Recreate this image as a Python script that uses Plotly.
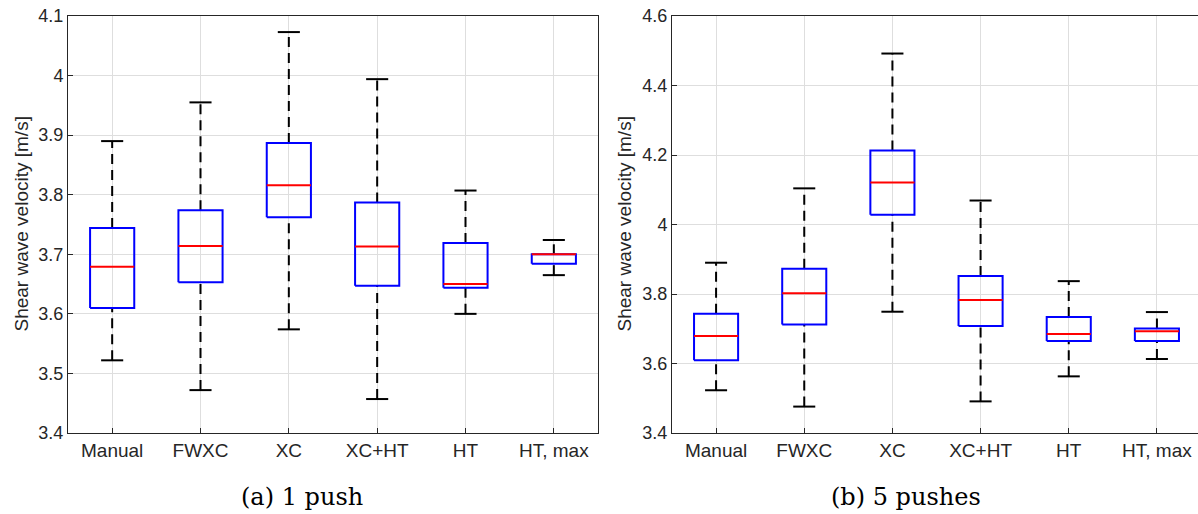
import plotly.graph_objects as go

categories = ["Manual", "FWXC", "XC", "XC+HT", "HT", "HT, max"]

# (a) 1 push
a_low = [3.522, 3.472, 3.574, 3.457, 3.600, 3.665]
a_q1 = [3.610, 3.653, 3.762, 3.647, 3.644, 3.684]
a_med = [3.679, 3.714, 3.816, 3.713, 3.650, 3.700]
a_q3 = [3.744, 3.774, 3.887, 3.787, 3.719, 3.700]
a_high = [3.890, 3.955, 4.073, 3.994, 3.807, 3.724]

# (b) 5 pushes
b_low = [3.523, 3.476, 3.749, 3.491, 3.563, 3.613]
b_q1 = [3.609, 3.712, 4.028, 3.708, 3.665, 3.665]
b_med = [3.679, 3.802, 4.121, 3.783, 3.685, 3.693]
b_q3 = [3.743, 3.873, 4.213, 3.852, 3.734, 3.701]
b_high = [3.890, 4.104, 4.492, 4.069, 3.837, 3.748]

a_ticks = [3.4, 3.5, 3.6, 3.7, 3.8, 3.9, 4.0, 4.1]
a_ticktext = ["3.4", "3.5", "3.6", "3.7", "3.8", "3.9", "4", "4.1"]
b_ticks = [3.4, 3.6, 3.8, 4.0, 4.2, 4.4, 4.6]
b_ticktext = ["3.4", "3.6", "3.8", "4", "4.2", "4.4", "4.6"]

ytitle = "Shear wave velocity [m/s]"
captions = ["(a) 1 push", "(b) 5 pushes"]

AXC = "#262626"
GRID = "#dedede"
FONT = "Liberation Sans, Arial, Helvetica, sans-serif"

fig = go.Figure()

HW = 0.25   # box half width
CW = 0.125  # cap half width


def add_boxes(low, q1, med, q3, high, xa, ya):
    pos = list(range(1, len(categories) + 1))
    wx, wy, cx, cy, bx, by, mx, my = [], [], [], [], [], [], [], []
    for p, lo, a, m, b, hi in zip(pos, low, q1, med, q3, high):
        wx += [p, p, None, p, p, None]
        wy += [b, hi, None, lo, a, None]
        cx += [p - CW, p + CW, None, p - CW, p + CW, None]
        cy += [hi, hi, None, lo, lo, None]
        bx += [p - HW, p + HW, p + HW, p - HW, p - HW, None]
        by += [a, a, b, b, a, None]
        mx += [p - HW, p + HW, None]
        my += [m, m, None]
    common = dict(mode="lines", showlegend=False, hoverinfo="skip", xaxis=xa, yaxis=ya)
    fig.add_trace(go.Scatter(x=wx, y=wy, line=dict(color="black", width=2, dash="10px,6px"), **common))
    fig.add_trace(go.Scatter(x=cx, y=cy, line=dict(color="black", width=2), **common))
    fig.add_trace(go.Scatter(x=bx, y=by, line=dict(color="#0000ff", width=2), **common))
    fig.add_trace(go.Scatter(x=mx, y=my, line=dict(color="#ff0000", width=2), **common))


add_boxes(a_low, a_q1, a_med, a_q3, a_high, "x", "y")
add_boxes(b_low, b_q1, b_med, b_q3, b_high, "x2", "y2")

W, H = 1198, 514
ydom = [(H - 433) / H, (H - 16) / H]

xcommon = dict(
    tickmode="array", tickvals=list(range(1, 7)), ticktext=categories,
    showgrid=True, gridcolor=GRID, gridwidth=1, zeroline=False,
    showline=True, mirror=True, linecolor=AXC, linewidth=1,
    ticks="inside", ticklen=5, tickcolor=AXC, automargin=False,
    tickfont=dict(family=FONT, size=19, color=AXC), fixedrange=True,
)
ycommon = dict(
    showgrid=True, gridcolor=GRID, gridwidth=1, zeroline=False,
    showline=True, mirror=True, linecolor=AXC, linewidth=1,
    ticks="inside", ticklen=5, tickcolor=AXC, automargin=False,
    tickfont=dict(family=FONT, size=18, color=AXC), fixedrange=True,
)

fig.update_layout(
    width=W, height=H,
    margin=dict(l=0, r=0, t=0, b=0, autoexpand=False),
    paper_bgcolor="white", plot_bgcolor="white",
    xaxis=dict(domain=[68 / W, 598 / W], range=[0.5, 6.5], anchor="y", **xcommon),
    yaxis=dict(domain=ydom, range=[3.4, 4.1], tickvals=a_ticks, ticktext=a_ticktext, anchor="x", **ycommon),
    xaxis2=dict(domain=[672 / W, 1.0], range=[0.5, 6.5 - 3 / 88.2], anchor="y2", **xcommon),
    yaxis2=dict(domain=ydom, range=[3.4, 4.6], tickvals=b_ticks, ticktext=b_ticktext, anchor="x2", **ycommon),
)

fig.add_annotation(x=21 / W, y=0.5 * (ydom[0] + ydom[1]), xref="paper", yref="paper",
                   text=ytitle, textangle=-90, showarrow=False, xanchor="center", yanchor="middle",
                   font=dict(family=FONT, size=19, color=AXC))
fig.add_annotation(x=624 / W, y=0.5 * (ydom[0] + ydom[1]), xref="paper", yref="paper",
                   text=ytitle, textangle=-90, showarrow=False, xanchor="center", yanchor="middle",
                   font=dict(family=FONT, size=19, color=AXC))

for cxp, txt in zip([302, 906], captions):
    fig.add_annotation(x=cxp / W, y=(H - 497) / H, xref="paper", yref="paper",
                       text=txt, showarrow=False, xanchor="center", yanchor="middle",
                       font=dict(family="DejaVu Serif, serif", size=24, color="black"))

fig.write_html("out.html")
